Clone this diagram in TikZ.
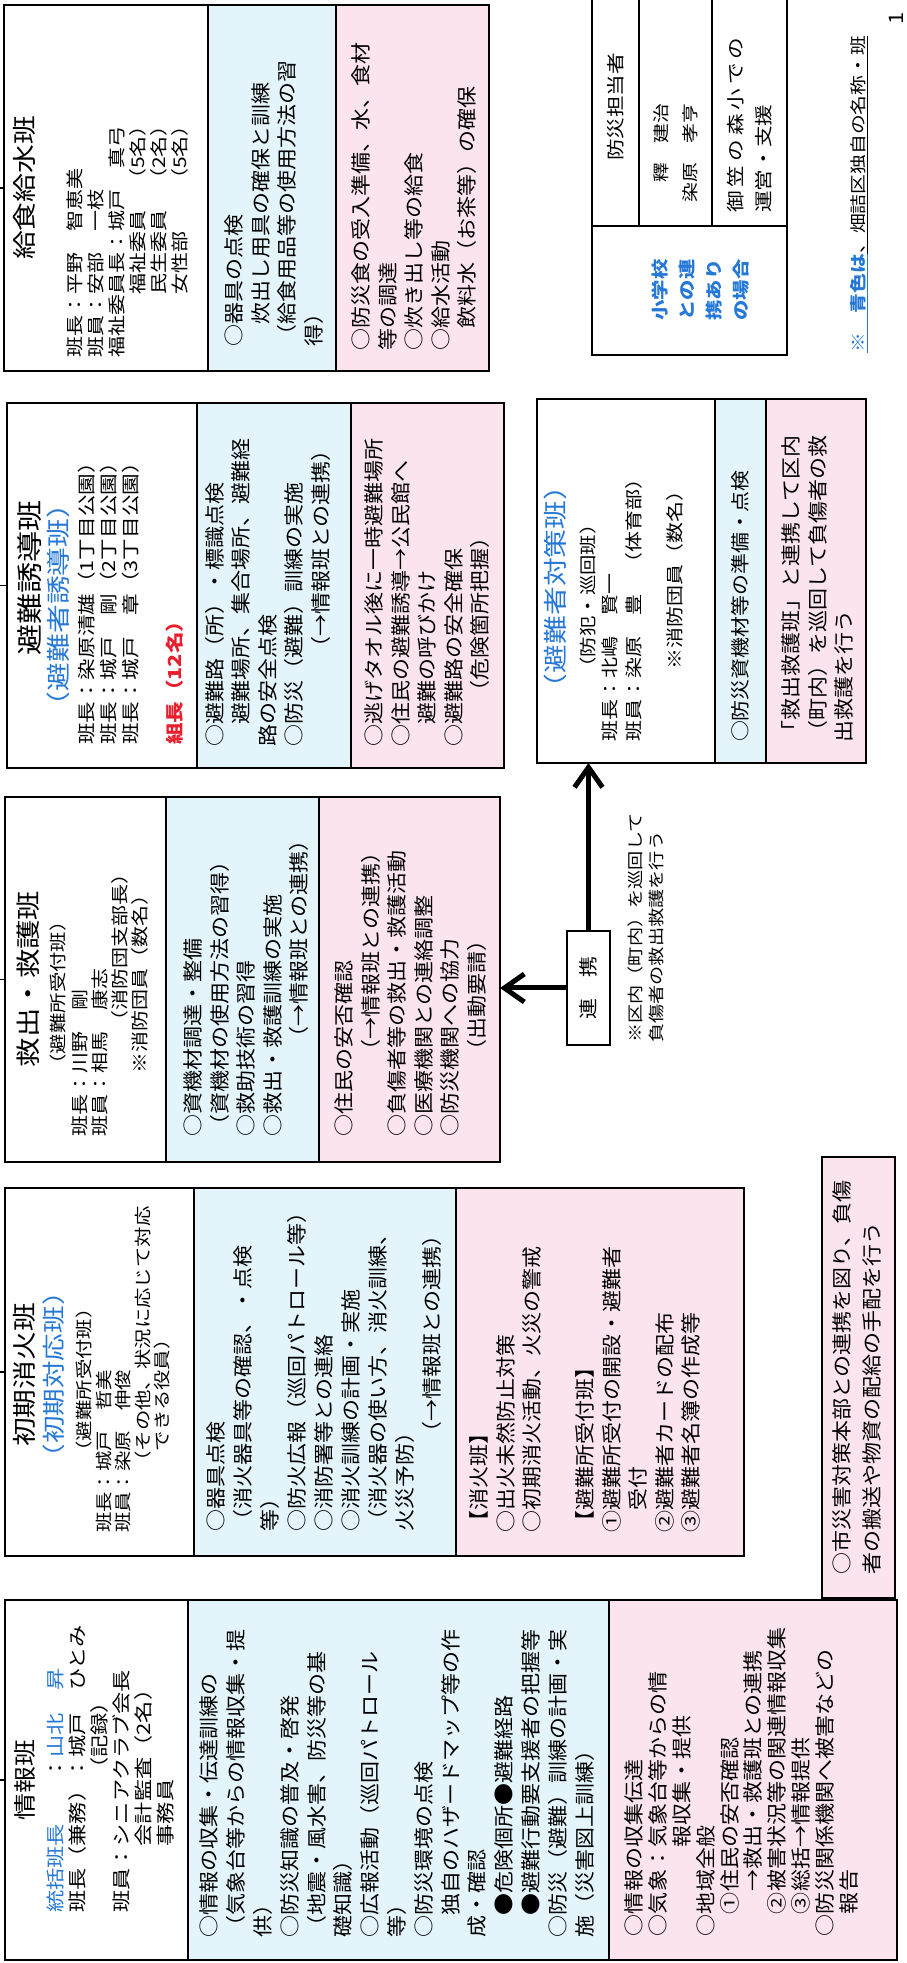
\documentclass[tikz,border=0pt]{standalone}
\usepackage{fontspec}
\setmainfont{Noto Sans CJK JP}[FakeStretch=1.1]
\newfontfamily\hdf{Noto Sans CJK JP}[FakeStretch=1.2]
\usetikzlibrary{arrows.meta}
\definecolor{bluefill}{RGB}{228,244,251}
\definecolor{pinkfill}{RGB}{251,228,238}
\definecolor{jblue}{RGB}{38,120,215}
\definecolor{jred}{RGB}{232,30,45}
\tikzset{
  boxst/.style={draw=black, line width=1.8pt, inner sep=0pt, outer sep=0pt},
  txt/.style={anchor=north west, inner sep=0pt, outer sep=0pt, align=left},
  ttl/.style={anchor=north, inner sep=0pt, outer sep=0pt, align=center},
  body/.style={txt, font=\fontsize{20}{26.5}\selectfont},
  conn/.style={line width=5pt, -{Straight Barb[length=20pt,width=28pt]}},
  stub/.style={line width=1.8pt},
}
\newcommand\mkbox[6]{\node[boxst, fill=#6, minimum width={(#4)-(#2)}, minimum height={(#5)-(#3)}, anchor=north west] (#1) at (#2,-#3) {};}
\newcommand\fs[2]{\fontsize{#1}{#2}\selectfont}
\begin{document}
\begin{tikzpicture}[x=1pt,y=1pt]
\useasboundingbox (0,0) rectangle (906,1963);
\fill[white] (0,0) rectangle (906,1963);
\begin{scope}[rotate=90, transform shape]
\coordinate (pagetop) at (0,0);
% ---------- boxes ----------
\mkbox{h1}{3}{5}{363}{188}{white}
\mkbox{b1}{3}{188}{363}{609}{bluefill}
\mkbox{p1}{3}{609}{363}{897}{pinkfill}
\mkbox{h2}{407}{5}{775}{194}{white}
\mkbox{b2}{407}{194}{775}{456}{bluefill}
\mkbox{p2}{407}{456}{775}{744}{pinkfill}
\mkbox{city}{365}{822}{806}{895}{pinkfill}
\mkbox{h3}{801}{5}{1166}{166}{white}
\mkbox{b3}{801}{166}{1166}{319}{bluefill}
\mkbox{p3}{801}{319}{1166}{500}{pinkfill}
\mkbox{h4}{1195}{7}{1560}{197}{white}
\mkbox{b4}{1195}{197}{1560}{351}{bluefill}
\mkbox{p4}{1195}{351}{1560}{504}{pinkfill}
\mkbox{h5}{1592}{4}{1958}{208}{white}
\mkbox{b5}{1592}{208}{1958}{336}{bluefill}
\mkbox{p5}{1592}{336}{1958}{489}{pinkfill}
\mkbox{h6}{1200}{537}{1564}{715}{white}
\mkbox{b6}{1200}{715}{1564}{766}{bluefill}
\mkbox{p6}{1200}{766}{1564}{866}{pinkfill}
\mkbox{tantoL}{1608}{592}{1737}{787}{white}
\mkbox{tantoA}{1737}{592}{1975}{639}{white}
\mkbox{tantoB}{1737}{639}{1975}{712}{white}
\mkbox{tantoC}{1737}{712}{1975}{787}{white}
% ---------- stubs ----------
\foreach \h in {h1,h2,h3,h4,h5}{\draw[stub] (\h.north) -- (\h.north |- pagetop);}
% ---------- 情報班 ----------
\node[ttl, font=\hdf\fs{22.5}{26}] (t1) at (183,-15) {情報班};
\node[txt, font=\hdf\fs{18.5}{22}] (d1) at (50,-47) {{\color{jblue}統括班長}　　：{\color{jblue}山北　昇}\\
班長（兼務）：城戸　ひとみ\\
\hphantom{班長（兼務）}（記録）\\
班員：シニアクラブ会長\\
\hphantom{班員：}会計監査（2名）\\
\hphantom{班員：}事務員};
\node[body, font=\fs{20}{26.8}] (x1) at (25,-200) {○情報の収集・伝達訓練の\\
（気象台等からの情報収集・提\\
供）\\
○防災知識の普及・啓発\\
（地震・風水害、防災等の基\\
礎知識）\\
○広報活動（巡回パトロール\\
等）\\
○防災環境の点検\\
　独自のハザードマップ等の作\\
成・確認\\
　●危険個所●避難経路\\
　●避難行動要支援者の把握等\\
○防災（避難）訓練の計画・実\\
施（災害図上訓練）};
\node[body, font=\fs{20}{23.8}] (y1) at (27,-625) {○情報の収集伝達\\
○気象：気象台等からの情\\
\hphantom{○気象：}報収集・提供\\
○地域全般\\
　①住民の安否確認\\
　　→救出・救護班との連携\\
　②被害状況等の関連情報収集\\
　③総括→情報提供\\
○防災関係機関へ被害などの\\
　報告};
% ---------- 初期消火班 ----------
\node[ttl, font=\hdf\fs{24}{28}] (t2) at (588,-13) {初期消火班};
\node[ttl, font=\hdf\fs{23}{26}, text=jblue] (s2) at (588,-43) {（初期対応班）};
\node[ttl, font=\hdf\fs{17}{20}] (r2) at (583,-76) {（避難所受付班）};
\node[txt, font=\hdf\fs{17}{19.5}] (d2) at (430,-96) {班長：城戸　哲美\\
班員：染原　伸俊\\
\hphantom{班員：}（その他、状況に応じて対応\\
\hphantom{班員：（}できる役員）};
\node[body, font=\fs{20}{27}] (x2) at (431,-207) {○器具点検\\
（消火器具等の確認、・点検\\
等）\\
○防火広報（巡回パトロール等）\\
○消防署等との連絡\\
○消火訓練の計画・実施\\
（消火器の使い方、消火訓練、\\
火災予防）\\
　　　　（→情報班との連携）};
\node[body] (y2) at (430,-470) {【消火班】\\
○出火未然防止対策\\
○初期消火活動、火災の警戒\\[26.5pt]
【避難所受付班】\\
①避難所受付の開設・避難者\\
　受付\\
②避難者カードの配布\\
③避難者名簿の作成等};
\node[body, font=\fs{20}{30}] (z2) at (388,-833) {○市災害対策本部との連携を図り、負傷\\
者の搬送や物資の配給の手配を行う};
% ---------- 救出・救護班 ----------
\node[ttl, font=\hdf\fs{24.5}{28}] (t3) at (984,-17) {救出・救護班};
\node[ttl, font=\hdf\fs{17}{20}] (r3) at (970,-50) {（避難所受付班）};
\node[txt, font=\hdf\fs{17.5}{20}] (d3) at (826,-72) {班長：川野　剛\\
班員：相馬　康志\\
\hphantom{班員：相馬}（消防団支部長）\\
\hphantom{班員：}※消防団員（数名）};
\node[body] (x3) at (826,-184) {○資機材調達・整備\\
（資機材の使用方法の習得）\\
○救助技術の習得\\
○救出・救護訓練の実施\\
　　　　（→情報班との連携）};
\node[body] (y3) at (826,-335) {○住民の安否確認\\
　　　\hspace*{10pt}（→情報班との連携）\\
○負傷者等の救出・救護活動\\
○医療機関との連絡調整\\
○防災機関への協力\\
　　　\hspace*{10pt}（出動要請）};
% ---------- 避難誘導班 ----------
\node[ttl, font=\hdf\fs{26}{30}] (t4) at (1385,-18) {避難誘導班};
\node[ttl, font=\hdf\fs{24}{28}, text=jblue] (s4) at (1358,-47) {（避難者誘導班）};
\node[txt, font=\hdf\fs{18}{22}] (d4) at (1218,-78) {班長：染原清雄（1丁目公園）\\
班長：城戸　剛（2丁目公園）\\
班長：城戸　章（3丁目公園）\\[22pt]
{\bfseries\color{jred}組長（12名）}};
\node[body] (x4) at (1216,-205) {○避難路（所）・標識点検\\
　避難場所、集合場所、避難経\\
路の安全点検\\
○防災（避難）訓練の実施\\
　　　　（→情報班との連携）};
\node[body] (y4) at (1216,-365) {○逃げタオル後に一時避難場所\\
○住民の避難誘導→公民館へ\\
　避難の呼びかけ\\
○避難路の安全確保\\
　　（危険箇所把握）};
% ---------- 給食給水班 ----------
\node[ttl, font=\hdf\fs{24}{28}] (t5) at (1775,-13) {給食給水班};
\node[txt, font=\hdf\fs{17.5}{21}] (d5) at (1605,-67) {班長：平野　智恵美\\
班員：安部　一枝\\
福祉委員長：城戸　真弓\\
　　　福祉委員　（5名）\\
　　　民生委員　（2名）\\
　　　女性部　　（5名）};
\node[body] (x5) at (1616,-225) {○器具の点検\\
　炊出し用具の確保と訓練\\
（給食用品等の使用方法の習\\
得）};
\node[body] (y5) at (1612,-352) {○防災食の受入準備、水、食材\\
等の調達\\
○炊き出し等の給食\\
○給水活動\\
　飲料水（お茶等）の確保};
% ---------- 避難者対策班 ----------
\node[ttl, font=\hdf\fs{24}{28}, text=jblue] (s6) at (1376,-544) {（避難者対策班）};
\node[ttl, font=\hdf\fs{17}{20}] (r6) at (1367,-580) {（防犯・巡回班）};
\node[txt, font=\hdf\fs{17.5}{24}] (d6) at (1221,-602) {班長：北嶋　賢一\\
班員：染原　豊　（体育部）};
\node[txt, font=\hdf\fs{17.5}{24}] (e6) at (1293,-667) {※消防団員（数名）};
\node[txt, font=\fs{19}{24}] (x6) at (1221,-731) {○防災資機材等の準備・点検};
\node[body] (y6) at (1220,-782) {「救出救護班」と連携して区内\\
（町内）を巡回して負傷者の救\\
出救護を行う};
% ---------- 連携 ----------
\node[boxst, fill=white, minimum width=114, minimum height=43, font=\fs{19}{22}] (renkei) at (975,-588.5) {連　携};
\draw[conn] (renkei.north) -- (renkei.north |- p3.south);
\draw[conn] (renkei.east) -- (renkei.east -| h6.west);
\node[txt, font=\hdf\fs{16}{21}] (rnote) at (920,-628) {※区内（町内）を巡回して\\負傷者の救出救護を行う};
% ---------- 防災担当者 ----------
\node[font=\hdf\fs{18}{22}, inner sep=0pt] (ta) at (1856,-615.5) {防災担当者};
\node[anchor=west, align=left, inner sep=0pt, font=\hdf\fs{16.5}{29}] (tb) at (1760,-676) {　釋　建治\\染原　孝亨};
\node[anchor=west, align=left, inner sep=0pt, font=\hdf\fs{18}{28.5}] (tc) at (1750,-749.5) {御\kern4pt 笠\kern4pt の\kern4pt 森\kern4pt 小\kern4pt で\kern4pt の\\運営・支援};
\node[align=center, inner sep=0pt, font=\hdf\bfseries\fs{17}{27}, text=jblue] (tl) at (1673,-701) {小学校\\との連\\携あり\\の場合};
% ---------- note & page ----------
\node[anchor=base west, inner sep=0pt, font=\hdf\fs{16.5}{20}] (note) at (1610,-864) {{\color{jblue}\underline{\bfseries ※　青色は}}\underline{、畑詰区独自の名称・班}};
\node[inner sep=0pt, font=\fs{20}{24}] (pg) at (1945,-896) {1};
\end{scope}
\end{tikzpicture}
\end{document}
